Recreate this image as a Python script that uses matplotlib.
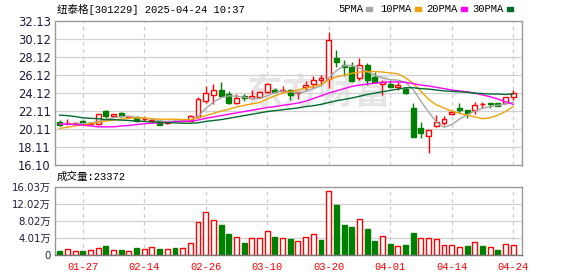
import matplotlib
matplotlib.use("Agg")
import matplotlib.pyplot as plt
from matplotlib.patches import Rectangle

plt.rcParams['font.family'] = ['DejaVu Sans', 'Noto Sans CJK SC']
MONO = ['Liberation Mono', 'Noto Sans CJK SC']

# trading days shown
dates = ['01-22', '01-23', '01-24', '01-27',
         '02-05', '02-06', '02-07', '02-10', '02-11', '02-12', '02-13', '02-14',
         '02-17', '02-18', '02-19', '02-20', '02-21', '02-24', '02-25', '02-26',
         '02-27', '02-28',
         '03-03', '03-04', '03-05', '03-06', '03-07', '03-10', '03-11', '03-12',
         '03-13', '03-14', '03-17', '03-18', '03-19', '03-20', '03-21', '03-24',
         '03-25', '03-26', '03-27', '03-28', '03-31',
         '04-01', '04-02', '04-03', '04-07', '04-08', '04-09', '04-10', '04-11',
         '04-14', '04-15', '04-16', '04-17', '04-18', '04-21', '04-22', '04-23',
         '04-24']
tick_dates = ['01-27', '02-14', '02-26', '03-10', '03-20', '04-01', '04-14', '04-24']

opens = [20.90, 20.75, 20.70, 21.00, 20.70, 20.65, 22.10, 21.60, 21.90, 21.45,
         21.40, 21.20, 21.05, 21.05, 20.75, 21.05, 21.05, 21.00, 21.40, 23.25,
         23.85, 24.45, 24.05, 22.95, 23.80, 23.60, 23.70, 24.25, 24.45, 24.30,
         24.45, 24.15, 24.80, 25.10, 25.55, 25.65, 28.05, 27.20, 27.00, 25.75,
         27.25, 25.85, 25.10, 25.10, 24.80, 24.55, 22.40, 20.25, 19.35, 20.45,
         20.80, 21.75, 22.50, 22.20, 22.20, 22.85, 22.95, 22.95, 22.95, 23.65]
highs = [21.15, 21.25, 20.90, 21.10, 20.90, 21.80, 22.20, 21.80, 21.95, 21.60,
         21.50, 21.50, 21.25, 21.15, 21.00, 21.15, 21.25, 21.65, 23.70, 24.90,
         25.10, 25.30, 24.30, 24.05, 23.95, 24.45, 24.35, 25.25, 24.70, 24.85,
         24.55, 24.20, 25.40, 26.05, 26.10, 30.95, 28.85, 27.75, 27.55, 28.00,
         27.40, 26.45, 25.55, 25.55, 25.30, 24.80, 22.95, 20.90, 20.00, 21.65,
         21.55, 22.20, 22.95, 22.20, 23.15, 23.15, 22.95, 22.97, 23.70, 24.45]
lows = [20.40, 20.60, 20.65, 20.60, 20.65, 20.60, 21.35, 21.40, 21.45, 21.40,
        20.90, 20.95, 20.90, 20.50, 20.70, 20.90, 21.00, 20.95, 21.35, 23.00,
        22.90, 23.70, 22.85, 22.90, 23.20, 23.45, 23.60, 24.15, 24.10, 24.20,
        23.35, 23.45, 24.50, 24.65, 25.00, 24.65, 27.05, 26.05, 25.35, 25.55,
        25.00, 25.25, 23.90, 24.75, 24.45, 24.00, 19.25, 19.05, 17.45, 20.30,
        20.60, 21.70, 21.85, 21.35, 21.75, 22.40, 22.40, 22.65, 22.90, 23.30]
closes = [20.50, 20.80, 20.80, 20.65, 20.80, 21.80, 21.60, 21.75, 21.50, 21.50,
          20.95, 21.25, 21.15, 20.55, 20.90, 21.00, 21.15, 21.55, 23.40, 24.15,
          24.45, 23.80, 23.05, 23.55, 23.55, 23.75, 24.20, 25.10, 24.25, 24.50,
          23.90, 24.20, 25.00, 25.55, 25.75, 30.00, 27.60, 27.05, 25.40, 27.25,
          25.55, 25.30, 25.35, 24.80, 24.95, 24.10, 19.25, 19.70, 20.00, 20.90,
          21.20, 22.05, 22.25, 21.90, 22.80, 22.90, 22.85, 22.70, 23.65, 24.10]

# moving averages as drawn
ma5 = [20.65, 20.65, 20.65, 20.70, 20.75, 20.95, 21.15, 21.35, 21.50, 21.50,
       21.40, 21.30, 21.20, 21.00, 20.95, 21.00, 21.05, 21.10, 21.50, 22.40,
       23.10, 23.60, 23.80, 23.75, 23.65, 23.50, 23.50, 23.80, 24.15, 24.35,
       24.25, 24.10, 24.30, 24.60, 24.90, 25.80, 26.60, 27.15, 27.20, 26.90,
       26.50, 26.10, 25.80, 25.60, 25.55, 25.30, 24.50, 23.20, 22.00, 20.90,
       20.30, 20.60, 21.20, 21.70, 22.10, 22.40, 22.60, 22.75, 22.90, 23.10]
ma10 = [20.18, 20.30, 20.45, 20.55, 20.70, 20.85, 21.00, 21.10, 21.20, 21.30,
        21.35, 21.35, 21.25, 21.20, 21.20, 21.20, 21.15, 21.15, 21.35, 21.60,
        21.85, 22.10, 22.30, 22.55, 22.75, 22.90, 23.05, 23.45, 23.80, 24.10,
        24.30, 24.45, 24.65, 24.85, 25.05, 25.55, 25.90, 26.10, 26.30, 26.45,
        26.50, 26.50, 26.45, 26.35, 26.25, 25.80, 25.20, 24.30, 23.40, 22.80,
        22.45, 22.10, 21.85, 21.65, 21.45, 21.25, 21.35, 21.65, 22.05, 22.60]
ma20 = [20.66, 20.65, 20.60, 20.55, 20.45, 20.35, 20.35, 20.35, 20.45, 20.50,
        20.60, 20.70, 20.75, 20.80, 20.85, 20.90, 20.95, 21.00, 21.10, 21.30,
        21.45, 21.60, 21.75, 21.90, 22.05, 22.20, 22.35, 22.50, 22.60, 22.75,
        22.85, 23.00, 23.20, 23.50, 23.80, 24.10, 24.35, 24.60, 24.85, 25.00,
        25.10, 25.20, 25.30, 25.35, 25.35, 25.30, 25.15, 25.00, 24.90, 24.75,
        24.60, 24.45, 24.35, 24.25, 24.10, 23.90, 23.70, 23.45, 23.15, 22.85]
ma30 = [21.65, 21.60, 21.50, 21.35, 21.30, 21.25, 21.15, 21.15, 21.10, 21.05,
        21.00, 20.95, 20.90, 20.85, 20.80, 20.80, 20.75, 20.75, 20.80, 20.95,
        21.05, 21.15, 21.30, 21.45, 21.60, 21.75, 21.90, 22.05, 22.15, 22.25,
        22.35, 22.45, 22.60, 22.70, 22.85, 23.05, 23.25, 23.40, 23.55, 23.75,
        23.95, 24.10, 24.25, 24.40, 24.55, 24.70, 24.70, 24.60, 24.55, 24.45,
        24.35, 24.30, 24.25, 24.20, 24.10, 24.05, 24.00, 24.00, 23.95, 24.00]

# volume in 万
volumes = [0.94, 1.34, 0.86, 0.94, 1.10, 1.57, 2.12, 1.10, 1.18, 0.94,
           1.65, 1.41, 1.81, 1.41, 1.41, 1.65, 1.65, 2.75, 7.86, 10.06,
           8.17, 7.07, 4.95, 4.16, 2.83, 3.93, 3.93, 5.58, 4.24, 3.93,
           3.77, 3.22, 4.24, 4.87, 3.54, 15.09, 11.79, 7.07, 6.60, 8.49,
           6.13, 3.30, 4.48, 2.59, 2.12, 2.36, 5.19, 4.01, 4.01, 3.69,
           2.36, 2.36, 1.89, 2.12, 2.99, 2.12, 1.89, 1.18, 2.59, 2.36]
vol_up = [0, 1, 1, 0, 1, 1, 0, 1, 0, 1, 0, 1, 1, 0, 1, 0, 1, 1, 1, 1,
          1, 0, 0, 1, 0, 1, 1, 1, 0, 1, 0, 1, 1, 1, 0, 1, 0, 0, 0, 1,
          0, 0, 1, 0, 1, 0, 0, 1, 1, 1, 1, 1, 1, 0, 1, 0, 1, 0, 1, 1]

price_ticks = [16.10, 18.11, 20.11, 22.11, 24.12, 26.12, 28.12, 30.12, 32.13]
vol_ticks = [0, 4.01, 8.02, 12.02, 16.03]
vol_labels = ['0', '4.01万', '8.02万', '12.02万', '16.03万']

RED = '#ff0000'
GREEN = '#008000'
ma_styles = [('5PMA', ma5, '#a6a6a6'), ('10PMA', ma10, '#f0a30a'),
             ('20PMA', ma20, '#ff00ff'), ('30PMA', ma30, '#006b2e')]

fig = plt.figure(figsize=(5.78, 2.76), dpi=100)
W, H = 578, 276


def px_axes(x0, y0, x1, y1):
    return fig.add_axes([x0 / W, 1 - y1 / H, (x1 - x0) / W, (y1 - y0) / H])


ax = px_axes(55, 21, 522, 165)
axv = px_axes(55, 187, 522, 255)
xs = list(range(len(dates)))
tick_pos = [dates.index(d) for d in tick_dates]

for a in (ax, axv):
    a.set_xlim(-0.61, len(dates) + 0.15)
    for s in a.spines.values():
        s.set_color('#999999')
        s.set_linewidth(1)
    for p in tick_pos:
        a.axvline(p, color='#cccccc', lw=0.9, ls=(0, (3, 3)), zorder=0)
    a.tick_params(length=0, pad=3)

# watermark
ax.text(0.565, 0.5, '东方财富', transform=ax.transAxes, fontsize=26,
        family=['Noto Sans CJK SC'], fontweight='bold', color='#e6e6e6',
        ha='center', va='center', zorder=0)

# price panel
ax.set_ylim(price_ticks[0], price_ticks[-1])
ax.set_yticks(price_ticks)
ax.set_yticklabels(['%.2f' % v for v in price_ticks], fontsize=8.3, color='#1c1c3c')
for v in price_ticks[1:-1]:
    ax.axhline(v, color='#d0d0d0', lw=0.9, zorder=0)
ax.set_xticks([])

for i in xs:
    o, h, l, c = opens[i], highs[i], lows[i], closes[i]
    up = c >= o
    col = RED if up else GREEN
    ax.vlines(i, l, h, color=col, lw=1, zorder=2)
    body = max(abs(c - o), 0.05)
    ax.bar(i, body, bottom=min(o, c), width=0.64,
           facecolor='white' if up else GREEN, edgecolor=col, lw=1, zorder=2.5)

for name, vals, col in ma_styles:
    ax.plot(xs, vals, color=col, lw=1, zorder=3)

# volume panel
axv.set_ylim(0, vol_ticks[-1])
axv.set_yticks(vol_ticks)
axv.set_yticklabels(vol_labels, fontsize=7.3, color='#1c1c3c')
for v in vol_ticks[1:-1]:
    axv.axhline(v, color='#d0d0d0', lw=0.9, zorder=0)
for i in xs:
    col = RED if vol_up[i] else GREEN
    axv.bar(i, volumes[i], width=0.64, facecolor='white' if vol_up[i] else GREEN,
            edgecolor=col, lw=1, zorder=2)
axv.spines['bottom'].set_color('#777777')
axv.set_xticks(tick_pos)
axv.set_xticklabels(tick_dates, family=MONO, fontsize=7.6, color=RED)
axv.tick_params(axis='x', pad=5)

# header texts
fig.text(57 / W, 1 - 9 / H, '纽泰格[301229] 2025-04-24 10:37', family=MONO,
         fontsize=7.6, va='center', ha='left')
fig.text(57 / W, 1 - 177 / H, '成交量:23372', family=MONO,
         fontsize=7.6, va='center', ha='left')

leg_x = [338, 380, 426, 472]
for (name, vals, col), x0 in zip(ma_styles, leg_x):
    t = fig.text(x0 / W, 1 - 9 / H, name, family=MONO, fontsize=7.6,
                 va='center', ha='left')
    sq_x = x0 + 6.3 * len(name) + 3
    fig.patches.append(Rectangle((sq_x / W, 1 - 11 / H), 6 / W, 4 / H,
                                 transform=fig.transFigure, color=col))

fig.savefig('out.png', dpi=100)
